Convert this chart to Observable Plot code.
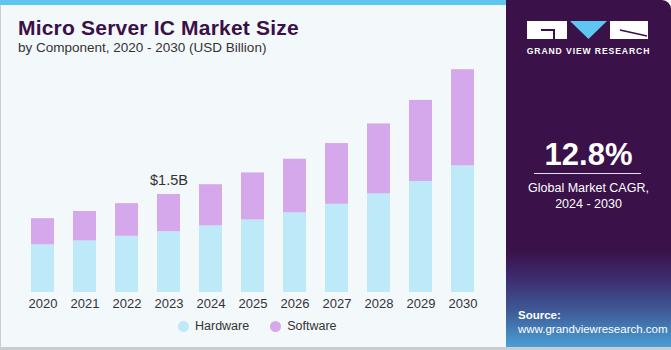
<!DOCTYPE html>
<html>
<head>
<meta charset="utf-8">
<script src="https://cdn.jsdelivr.net/npm/d3@7"></script>
<script src="https://cdn.jsdelivr.net/npm/@observablehq/plot@0.6"></script>
<style>
  html, body { margin: 0; padding: 0; background: #ffffff; }
  #frame { position: relative; width: 671px; height: 350px; overflow: hidden; background: #f3f8fb; font-family: "Liberation Sans", Arial, sans-serif; }
  #leftborder { position: absolute; left: 0; top: 0; width: 1px; height: 349px; background: #c9cdd1; }
  #bottomborder { position: absolute; left: 0; top: 347px; width: 671px; height: 3px; background: #c9cdd1; }
  #topbar { position: absolute; left: 0; top: 0; width: 506px; height: 5px; background: #5ec6ef; }
  #title { position: absolute; left: 18px; top: 16px; font-size: 21px; font-weight: bold; color: #3b1048; letter-spacing: 0.2px; }
  #subtitle { position: absolute; left: 18px; top: 40px; font-size: 13.5px; color: #333; }
  #chart { position: absolute; left: 0; top: 0; }
  #legend { position: absolute; top: 319px; left: 178px; font-size: 12.5px; color: #333; display: flex; gap: 0; }
  .item { display: flex; align-items: center; margin-right: 21px; }
  .dot { width: 11px; height: 11px; border-radius: 50%; margin-right: 6px; }
  #panel { position: absolute; left: 506px; top: 0; width: 165px; height: 347px; border-top-right-radius: 9px;
    background: linear-gradient(to bottom, #3a1149 0%, #3a1149 72%, #3d2b6e 80%, #3f5c98 90%, #4aa0d6 100%); overflow: hidden; }
  #cagr { position: absolute; left: 0; width: 165px; top: 137px; text-align: center; color: #fff; font-size: 31px; font-weight: bold; }
  #rule { position: absolute; left: 28px; width: 107px; top: 173px; height: 1px; background: #e8e0ee; }
  #cagrtext { position: absolute; left: 0; width: 165px; top: 180px; text-align: center; color: #fff; font-size: 12.5px; line-height: 16px; }
  #brand { position: absolute; left: 0; width: 165px; top: 46px; text-align: center; color: #fff; font-size: 8.6px; font-weight: bold; letter-spacing: 0.9px; }
  #source { position: absolute; left: 12px; top: 308px; color: #fff; font-size: 11.5px; line-height: 14px; }
</style>
</head>
<body>
<div id="frame">
  <div id="leftborder"></div>
  <div id="topbar"></div>
  <div id="title">Micro Server IC Market Size</div>
  <div id="subtitle">by Component, 2020 - 2030 (USD Billion)</div>
  <div id="chart"></div>
  <div id="legend"></div>
  <div id="panel">
    <svg id="logo" width="165" height="45" style="position:absolute;left:0;top:0">
      <rect x="21" y="21" width="40" height="18" fill="#ffffff"/>
      <rect x="35" y="29" width="12" height="2" fill="#3a1149"/>
      <rect x="47" y="29" width="2" height="10" fill="#3a1149"/>
      <polygon points="64,21 101,21 82.5,39" fill="#5ec6ef"/>
      <rect x="104" y="21" width="38" height="18" fill="#ffffff"/>
      <line x1="114" y1="30" x2="141" y2="36" stroke="#3a1149" stroke-width="1.5"/>
    </svg>
    <div id="brand">GRAND VIEW RESEARCH</div>
    <div id="cagr">12.8%</div>
    <div id="rule"></div>
    <div id="cagrtext">Global Market CAGR,<br>2024 - 2030</div>
    <div id="source"><b>Source:</b><br>www.grandviewresearch.com</div>
  </div>
  <div id="bottomborder"></div>
</div>
<script>
const years = ["2020","2021","2022","2023","2024","2025","2026","2027","2028","2029","2030"];
const hardware = [0.73, 0.79, 0.86, 0.93, 1.02, 1.11, 1.22, 1.35, 1.51, 1.70, 1.94];
const software = [0.40, 0.45, 0.50, 0.57, 0.63, 0.72, 0.82, 0.93, 1.07, 1.24, 1.47];
const segments = ["Hardware", "Software"];
const segmentColors = ["#bde9f8", "#d4a8ea"];
const annotationYear = "2023";
const annotationLabel = "$1.5B";

const rows = [];
years.forEach((y, i) => {
  rows.push({year: y, segment: "Hardware", value: hardware[i]});
  rows.push({year: y, segment: "Software", value: software[i]});
});
const ai = years.indexOf(annotationYear);
const annot = [{year: annotationYear, total: hardware[ai] + software[ai], label: annotationLabel}];

const chart = Plot.plot({
  width: 500,
  height: 320,
  marginLeft: 12,
  marginRight: 7,
  marginTop: 30.67,
  marginBottom: 28,
  style: {background: "transparent", fontFamily: "'Liberation Sans', Arial, sans-serif", fontSize: "13px", color: "#333"},
  x: {domain: years, padding: 0.452, label: null, tickSize: 0, tickPadding: 6},
  y: {domain: [0, 4], axis: null},
  color: {domain: segments, range: segmentColors},
  marks: [
    Plot.barY(rows, {x: "year", y: "value", fill: "segment", order: segments}),
    Plot.text(annot, {x: "year", y: "total", text: "label", dy: -14, fontSize: 14.5, fill: "#333"})
  ]
});
chart.querySelectorAll("[aria-label='x-axis tick label'] text").forEach(t => t.setAttribute("fill", "#333"));
document.getElementById("chart").appendChild(chart);

const legend = document.getElementById("legend");
segments.forEach((s, i) => {
  const item = document.createElement("div");
  item.className = "item";
  const dot = document.createElement("div");
  dot.className = "dot";
  dot.style.background = segmentColors[i];
  const lbl = document.createElement("span");
  lbl.textContent = s;
  item.appendChild(dot);
  item.appendChild(lbl);
  legend.appendChild(item);
});
</script>
</body>
</html>
